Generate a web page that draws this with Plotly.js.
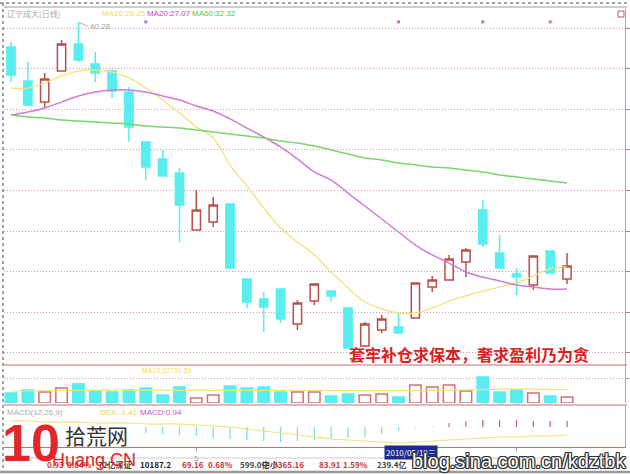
<!DOCTYPE html>
<html><head><meta charset="utf-8">
<script src="https://cdn.plot.ly/plotly-3.0.1.min.js"></script>
<style>html,body{margin:0;padding:0;background:#fff}#c{width:630px;height:474px}</style>
</head><body><div id="c"></div>
<script>
// ---- data ----
const idx = [0,1,2,3,4,5,6,7,8,9,10,11,12,13,14,15,16,17,18,19,20,21,22,23,24,25,26,27,28,29,30,31,32,33];
const openP  = [39.06,37.39,36.35,37.88,39.21,38.23,37.88,36.85,34.38,33.55,32.86,30.05,30.44,31.33,27.64,26.65,27.14,25.42,26.55,27.04,26.21,24.33,25.12,25.27,25.71,27.24,27.59,28.47,31.03,28.92,27.88,27.34,29.01,27.64];
const highP  = [39.31,38.33,37.78,39.41,40.28,38.82,37.90,37.09,34.40,33.99,33.10,32.02,31.67,31.35,27.66,27.00,27.16,26.60,27.41,27.06,26.23,25.52,25.86,26.01,27.46,27.78,28.82,29.16,31.53,29.80,28.18,28.79,29.03,28.92];
const lowP   = [37.34,36.16,36.06,37.85,38.33,37.34,36.55,34.38,32.51,32.68,29.46,30.02,30.20,28.15,26.21,25.02,25.47,25.12,26.35,26.50,24.22,24.31,24.98,24.97,25.69,27.00,27.58,27.73,29.21,28.17,26.85,27.09,27.92,27.39];
const closeP = [37.68,36.21,37.49,39.21,38.42,37.78,36.90,35.12,33.15,32.71,31.28,31.03,31.28,28.18,26.50,26.26,25.67,26.45,27.39,26.80,24.24,25.42,25.67,24.98,27.44,27.59,28.62,29.06,29.36,28.18,27.73,28.77,27.93,28.28];
const ma10 = [37.04,37.04,37.29,37.64,37.88,37.93,37.83,37.54,37.04,36.45,35.81,35.12,34.58,33.25,32.22,31.13,30.15,29.46,28.82,27.98,27.19,26.50,26.16,25.96,25.96,26.21,26.55,26.80,27.04,27.24,27.44,27.78,28.13,28.23];
const ma20 = [35.71,35.86,36.06,36.35,36.65,36.85,36.95,36.95,36.85,36.65,36.45,36.16,35.91,35.52,35.07,34.63,34.14,33.55,32.91,32.51,31.87,31.23,30.59,29.95,29.31,28.82,28.42,27.98,27.73,27.54,27.34,27.24,27.14,27.14];
const ma60 = [35.71,35.62,35.57,35.47,35.42,35.37,35.32,35.27,35.17,35.12,35.07,34.98,34.88,34.78,34.68,34.58,34.43,34.33,34.19,33.99,33.79,33.60,33.50,33.35,33.25,33.15,33.10,33.00,32.91,32.76,32.66,32.56,32.46,32.36];
const volume = [17600,22900,19100,26400,33300,21100,19300,22700,26200,14100,28100,8800,14000,29800,26300,27900,19200,19300,19100,12300,15800,14000,15700,10600,31600,28000,31400,21000,45600,19200,22800,17600,12300,10600];
const volMa10 = [21000,21000,21500,22000,22000,22500,22500,22800,23000,22800,22600,22300,22000,22200,22500,22800,22900,22700,22600,22400,22100,21800,21500,21300,21700,22200,22800,23200,24500,24800,24600,24400,23900,23500];
const macdHist = [0,0,0,0,0,0,0,0,-0.6,-0.7,-0.8,-0.9,-1.1,-1.2,-1.3,-1.4,-1.5,-1.4,-1.3,-1.2,-1.1,-1.0,-0.7,-0.4,-0.1,0.05,0.4,0.6,0.7,0.7,0.7,0.6,0.6,0.6];
const diffLine = [0.6,0.6,0.5,0.5,0.5,0.4,0.4,0.4,0.3,0.3,0.3,0.2,0.1,0,-0.2,-0.4,-0.6,-0.8,-1.0,-1.2,-1.3,-1.4,-1.5,-1.6,-1.5,-1.4,-1.3,-1.2,-1.1,-1.0,-1.0,-0.9,-0.9,-0.8];
const infoMarkIdx = [8,23,28,32];
const monthTickIdx = [11,30];
const monthTickText = ['5','6'];
const priceGrid = [24,26,28,30,32,34,36,38,40];
const volGrid = [43750];
const stockName = '辽宁成大(日线)';
const maLabels = ['MA10:29.25','MA20:27.07','MA60:32.32'];
const volLabel = 'MA10:22791.59';
const macdLabels = ['MACD(12,26,9)','DEA:-1.41','MACD:0.94'];
const slogan = '套牢补仓求保本，奢求盈利乃为贪';
const dateLabel = '2010/05/19三';
const statusItems = [['0.93','#d03030'],['0.84%','#d03030'],['72亿深证','#444'],['10187.2','#222'],['69.16','#d03030'],['0.68%','#d03030'],['599.0亿','#444'],['中小','#444'],['5365.16','#d03030'],['83.91','#d03030'],['1.59%','#d03030'],['239.4亿','#444']];
const statusX = [45,65,96,138,180,206,238,260,271,317,341,375];

// ---- styling ----
const W = 630, H = 474;
const PX = x => x / W, PY = y => 1 - y / H;
const RED = '#b8504a', CYAN = '#58eef0';
const F = 'Liberation Sans, Noto Sans CJK SC, sans-serif';
const CJK = 'Noto Sans CJK SC, sans-serif';

const up = idx.map(i => closeP[i] >= openP[i]);
const traces = [
  {type:'candlestick', x:idx, open:openP, high:highP, low:lowP, close:closeP, xaxis:'x', yaxis:'y',
   increasing:{line:{color:RED, width:1.5}, fillcolor:'#ffffff'},
   decreasing:{line:{color:CYAN, width:1.5}, fillcolor:CYAN}, whiskerwidth:0, hoverinfo:'skip'},
  {type:'scatter', mode:'lines', x:idx, y:ma10, line:{color:'#f2e27c', width:1.3, shape:'spline'}, yaxis:'y', hoverinfo:'skip'},
  {type:'scatter', mode:'lines', x:idx, y:ma20, line:{color:'#d27ad6', width:1.5, shape:'spline'}, yaxis:'y', hoverinfo:'skip'},
  {type:'scatter', mode:'lines', x:idx, y:ma60, line:{color:'#7cd46e', width:1.5, shape:'spline'}, yaxis:'y', hoverinfo:'skip'},
  {type:'scatter', mode:'markers', x:infoMarkIdx, y:infoMarkIdx.map(() => 40.3), marker:{symbol:'square', size:3, color:'#c070c8'}, yaxis:'y', hoverinfo:'skip'},
  {type:'bar', x:idx, y:volume, width:0.68, yaxis:'y2',
   marker:{color:up.map(u => u ? '#ffffff' : CYAN), line:{color:up.map(u => u ? '#d07070' : CYAN), width:1.5}}, hoverinfo:'skip'},
  {type:'scatter', mode:'lines', x:idx, y:volMa10, line:{color:'#f2e27c', width:1.2}, yaxis:'y2', hoverinfo:'skip'},
  {type:'bar', x:idx, y:macdHist, width:0.07, yaxis:'y3',
   marker:{color:macdHist.map(v => v >= 0 ? '#c06060' : '#7ad8e8'), line:{width:0}}, hoverinfo:'skip'},
  {type:'scatter', mode:'lines', x:idx, y:diffLine, line:{color:'#f2e27c', width:1.2, shape:'spline'}, yaxis:'y3', hoverinfo:'skip'}
];

const ann = [];
const txt = (x, y, text, color, size, opts) => ann.push(Object.assign({xref:'paper', yref:'paper', x:PX(x), y:PY(y), text, showarrow:false, xanchor:'left', yanchor:'middle', font:{family:F, size, color}}, opts || {}));
txt(5, 14, stockName, '#a8a8a8', 8, {font:{family:CJK, size:8, color:'#a8a8a8'}});
txt(100, 14, maLabels[0], '#e8dc50', 8);
txt(145, 14, maLabels[1], '#c840c8', 8);
txt(190, 14, maLabels[2], '#50c850', 8);
ann.push({xref:'x', yref:'y', x:4, y:highP[4], text:highP[4].toFixed(2), showarrow:true, arrowhead:0, arrowwidth:0.8, arrowcolor:'#999', ax:10, ay:4, xanchor:'left', font:{family:F, size:8, color:'#a0a0a0'}});
txt(469, 354, slogan, '#dd2020', 16, {xanchor:'center', font:{family:CJK, size:16, color:'#dd2020', weight:700}});
txt(140, 370, volLabel, '#eedc60', 7);
txt(5, 412, macdLabels[0], '#aaaaaa', 8);
txt(98, 412, macdLabels[1], '#e6d850', 8);
txt(138, 412, macdLabels[2], '#c850c8', 8);
statusItems.forEach((s, i) => txt(statusX[i], 464, s[0], s[1], 8, {font:{family:CJK, size:8, color:s[1], weight:700}}));
txt(411, 452, dateLabel, '#ffffff', 8, {xanchor:'center', bgcolor:'#1c2b8c', borderpad:1, font:{family:CJK, size:8, color:'#ffffff'}});
// watermark
txt(31, 443, '10', '#e2262a', 52, {xanchor:'center', font:{family:'Liberation Sans, sans-serif', size:52, color:'#e2262a', weight:900}});
txt(96, 435, '拾荒网', '#333333', 21, {xanchor:'center', font:{family:CJK, size:21, color:'#333333'}});
txt(94, 460, 'Huang.CN', '#e2262a', 18, {xanchor:'center', font:{family:'Liberation Sans, sans-serif', size:18, color:'#e2262a'}});
txt(519, 461, 'blog.sina.com.cn/kdztbk', '#ffffff', 20, {xanchor:'center', font:{family:'Liberation Sans, sans-serif', size:20, color:'#ffffff',
  shadow:'-1px -1px 0 #333, 1px -1px 0 #333, -1px 1px 0 #333, 1px 1px 0 #333, 0 1px 0 #333, 0 -1px 0 #333, 1px 0 0 #333, -1px 0 0 #333'}});

const line = (x0, y0, x1, y1, color, width, dash) => ({type:'line', xref:'paper', yref:'paper', x0:PX(x0), y0:PY(y0), x1:PX(x1), y1:PY(y1), line:{color, width, dash:dash || 'solid'}, layer:'above'});
const shapes = [
  line(0, 3, 630, 3, '#444', 1, 'dot'),
  line(3, 3, 3, 472, '#444', 1, 'dot'),
  line(4, 7, 627, 7, '#bbbbbb', 1.5),
  line(4, 365, 627, 365, '#c87070', 1.2),
  line(4, 405, 627, 405, '#c87070', 1.2),
  line(4, 458, 627, 458, '#cccccc', 1),
  line(0, 472, 630, 472, '#999999', 2.5),
  {type:'rect', xref:'paper', yref:'paper', x0:PX(618), y0:PY(11), x1:PX(624), y1:PY(17), line:{color:'#b06060', width:1}, layer:'above'}
];

const layout = {
  width:W, height:H, margin:{l:0, r:0, t:0, b:0}, paper_bgcolor:'#ffffff', plot_bgcolor:'rgba(0,0,0,0)',
  showlegend:false, barmode:'overlay', dragmode:false,
  xaxis:{domain:[PX(4), PX(625)], range:[-0.415, 36.44], anchor:'y3', rangeslider:{visible:false},
    showgrid:false, zeroline:false, showline:true, linecolor:'#c87070', linewidth:1.2,
    tickmode:'array', tickvals:monthTickIdx, ticktext:monthTickText, ticks:'outside', ticklen:3, tickcolor:'#999',
    tickfont:{family:F, size:8, color:'#999'}},
  yaxis:{domain:[PY(365), PY(8)], range:[23.399, 40.985], side:'right', anchor:'x',
    tickmode:'array', tickvals:priceGrid, showticklabels:false, ticks:'outside', ticklen:4, tickcolor:'#b08080',
    showgrid:true, gridcolor:'#d89a9a', griddash:'1px,2px', gridwidth:1, zeroline:false, showline:true, linecolor:'#c8a0a0'},
  yaxis2:{domain:[PY(403), PY(365)], range:[0, 66500], side:'right', anchor:'x',
    tickmode:'array', tickvals:volGrid, showticklabels:false, ticks:'outside', ticklen:3, tickcolor:'#b08080',
    showgrid:true, gridcolor:'#d89a9a', griddash:'1px,2px', zeroline:false, showline:true, linecolor:'#c8a0a0'},
  yaxis3:{domain:[PY(447), PY(405)], range:[-2.0, 2.2], side:'right', anchor:'x',
    showticklabels:false, ticks:'', showgrid:false, zeroline:false, showline:true, linecolor:'#c8a0a0'},
  annotations:ann, shapes:shapes
};
Plotly.newPlot('c', traces, layout, {staticPlot:true, displayModeBar:false});
</script></body></html>
